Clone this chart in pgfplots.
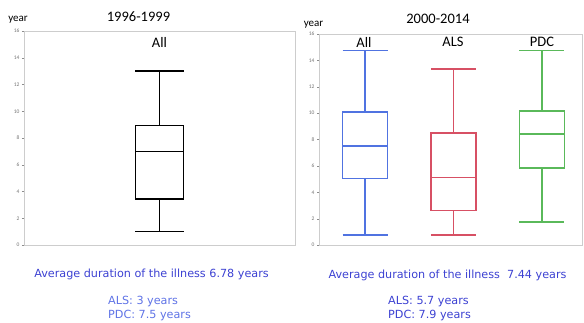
\documentclass[border=0pt]{standalone}
\usepackage{pgfplots}
\pgfplotsset{compat=1.18}
\usepgfplotslibrary{statistics}
\usepackage{fontspec}
\setmainfont{DejaVu Sans}
\newfontfamily\calib{Carlito}
\definecolor{bxblue}{RGB}{80,115,225}
\definecolor{bxred}{RGB}{215,80,100}
\definecolor{bxgreen}{RGB}{90,185,90}
\definecolor{txtblue}{RGB}{60,65,210}
\definecolor{txtblue2}{RGB}{95,115,230}
\definecolor{framegray}{RGB}{205,205,205}
\begin{document}
\begin{tikzpicture}
\useasboundingbox (0pt,0pt) rectangle (584pt,322pt);
\pgfplotsset{
  myax/.style={
    scale only axis,
    anchor=south west,
    boxplot/draw direction=y,
    boxplot/every box/.style={line width=1.5pt},
    boxplot/every whisker/.style={line width=1.5pt},
    boxplot/every median/.style={line width=1.5pt},
    ymin=0, ymax=16,
    ytick={0,2,...,16},
    ytick pos=left,
    xtick=\empty,
    axis line style={framegray},
    tick style={black!45},
    tick align=outside,
    major tick length=2pt,
    y tick label style={font=\calib\fontsize{5.5}{6}\selectfont, text=black!55, xshift=1pt},
    /pgf/number format/assume math mode=true,
    clip=false,
  }
}
% Left axis
\begin{axis}[myax, at={(24pt,77pt)}, width=271pt, height=214pt, xmin=0, xmax=2]
\addplot[black, solid, mark=none,
  boxplot prepared={draw position=1, lower whisker=1, lower quartile=3.45, median=7.0,
  upper quartile=8.95, upper whisker=13, box extend=0.355, whisker extend=0.355}]
  coordinates {};
\end{axis}
% Right axis
\begin{axis}[myax, at={(319pt,77pt)}, width=263pt, height=211pt, xmin=0.477, xmax=3.455]
\addplot[bxblue, solid, mark=none,
  boxplot prepared={draw position=1, lower whisker=0.75, lower quartile=5.05, median=7.5,
  upper quartile=10.1, upper whisker=14.75, box extend=0.51, whisker extend=0.51}]
  coordinates {};
\addplot[bxred, solid, mark=none,
  boxplot prepared={draw position=2, lower whisker=0.75, lower quartile=2.6, median=5.1,
  upper quartile=8.5, upper whisker=13.35, box extend=0.51, whisker extend=0.51}]
  coordinates {};
\addplot[bxgreen, solid, mark=none,
  boxplot prepared={draw position=3, lower whisker=1.75, lower quartile=5.85, median=8.4,
  upper quartile=10.15, upper whisker=14.75, box extend=0.51, whisker extend=0.51}]
  coordinates {};
\end{axis}
% Titles and labels
\node[font=\calib\fontsize{14.5}{16}\selectfont] at (138.5pt,305pt) {1996-1999};
\node[font=\calib\fontsize{14.5}{16}\selectfont] at (438pt,303pt) {2000-2014};
\node[font=\calib\fontsize{11}{12}\selectfont] at (18pt,302pt) {year};
\node[font=\calib\fontsize{11}{12}\selectfont] at (313.5pt,297pt) {year};
\node[font=\calib\fontsize{14.5}{16}\selectfont] at (159.5pt,280pt) {All};
\node[font=\calib\fontsize{14.5}{16}\selectfont] at (364pt,280pt) {All};
\node[font=\calib\fontsize{14.5}{16}\selectfont] at (453pt,280pt) {ALS};
\node[font=\calib\fontsize{14.5}{16}\selectfont] at (542pt,280pt) {PDC};
% Bottom texts
\node[font=\fontsize{11.2}{13}\selectfont, text=txtblue] at (151.5pt,48pt) {Average duration of the illness 6.78 years};
\node[font=\fontsize{11.2}{13}\selectfont, text=txtblue] at (447.5pt,47pt) {Average duration of the illness\ \ 7.44 years};
\node[font=\fontsize{11.2}{13}\selectfont, text=txtblue2, anchor=west, inner sep=0pt] at (108pt,20pt) {ALS: 3 years};
\node[font=\fontsize{11.2}{13}\selectfont, text=txtblue2, anchor=west, inner sep=0pt] at (108pt,6pt) {PDC: 7.5 years};
\node[font=\fontsize{11.2}{13}\selectfont, text=txtblue, anchor=west, inner sep=0pt] at (388pt,20pt) {ALS: 5.7 years};
\node[font=\fontsize{11.2}{13}\selectfont, text=txtblue, anchor=west, inner sep=0pt] at (388pt,6pt) {PDC: 7.9 years};
\end{tikzpicture}
\end{document}
